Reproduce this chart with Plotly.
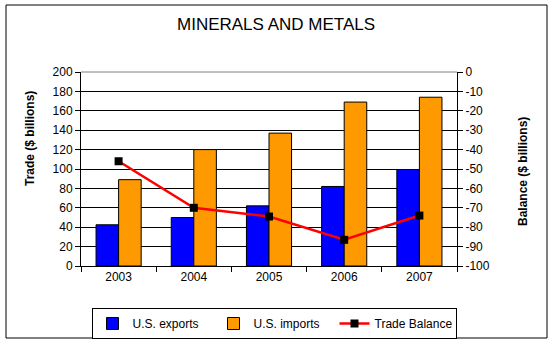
import plotly.graph_objects as go

years = ["2003", "2004", "2005", "2006", "2007"]
exports = [42.5, 50, 62, 82, 99.5]
imports = [89, 120, 137, 169, 174]
balance = [-46, -70, -74.5, -86.5, -74]
left_ticks = list(range(0, 201, 20))
right_ticks = list(range(-100, 1, 10))

FONT = "Arial, Liberation Sans, sans-serif"
W, H = 554, 345
L, R, T, B = 81, 97, 72, 79
pw, ph = W - L - R, H - T - B

def px_x(px):
    return (px - L) / pw

def px_y(py):
    return (H - B - py) / ph

fig = go.Figure()
fig.add_trace(go.Bar(x=years, y=exports, name="U.S. exports",
                     marker=dict(color="#0000FF", line=dict(color="black", width=1))))
fig.add_trace(go.Bar(x=years, y=imports, name="U.S. imports",
                     marker=dict(color="#FF9900", line=dict(color="black", width=1))))
fig.add_trace(go.Scatter(x=years, y=balance, name="Trade Balance", yaxis="y2",
                         mode="lines+markers",
                         line=dict(color="#FF0000", width=2.5),
                         marker=dict(symbol="square", size=8, color="black")))

fig.update_layout(
    width=W, height=H,
    margin=dict(l=L, r=R, t=T, b=B, autoexpand=False),
    paper_bgcolor="white", plot_bgcolor="white",
    font=dict(family=FONT, size=12, color="black"),
    barmode="group", bargap=0.4, bargroupgap=0,
    showlegend=True,
    legend=dict(orientation="h", xref="container", yref="container",
                x=274 / W, xanchor="center",
                y=1 - 308 / H, yanchor="top",
                entrywidth=76, entrywidthmode="pixels",
                bordercolor="black", borderwidth=1,
                font=dict(size=12), traceorder="normal"),
    xaxis=dict(type="category", showline=True, linecolor="black", linewidth=1,
               ticks="outside", tickson="boundaries", ticklen=5, tickcolor="black",
               showgrid=False, mirror=False),
    yaxis=dict(range=[0, 200], tickvals=left_ticks, ticktext=[str(v) for v in left_ticks],
               showline=True, linecolor="black", linewidth=1,
               ticks="outside", ticklen=5, tickcolor="black",
               showgrid=True, gridcolor="black", gridwidth=1, zeroline=False),
    yaxis2=dict(range=[-100, 0], tickvals=right_ticks, ticktext=[str(v) for v in right_ticks],
                overlaying="y", side="right",
                showline=True, linecolor="black", linewidth=1,
                ticks="outside", ticklen=5, tickcolor="black",
                showgrid=False, zeroline=False),
)

# title
fig.add_annotation(text="MINERALS AND METALS", xref="paper", yref="paper",
                   x=px_x(276), y=px_y(25), showarrow=False,
                   font=dict(size=17, family=FONT), xanchor="center", yanchor="middle")
# axis titles
fig.add_annotation(text="<b>Trade ($ billions)</b>", xref="paper", yref="paper",
                   x=px_x(30), y=px_y(139), showarrow=False, textangle=-90,
                   font=dict(size=12, family=FONT), xanchor="center", yanchor="middle")
fig.add_annotation(text="<b>Balance ($ billions)</b>", xref="paper", yref="paper",
                   x=px_x(523), y=px_y(172), showarrow=False, textangle=-90,
                   font=dict(size=12, family=FONT), xanchor="center", yanchor="middle")

# grey top border of plot area and outer chart frame
fig.add_shape(type="line", xref="paper", yref="paper", x0=0, x1=1, y0=1, y1=1,
              line=dict(color="#808080", width=1), layer="above")
fig.add_shape(type="rect", xref="paper", yref="paper",
              x0=px_x(6), x1=px_x(547), y0=px_y(338), y1=px_y(5),
              line=dict(color="black", width=1), layer="above")

fig.write_html("out.html")
